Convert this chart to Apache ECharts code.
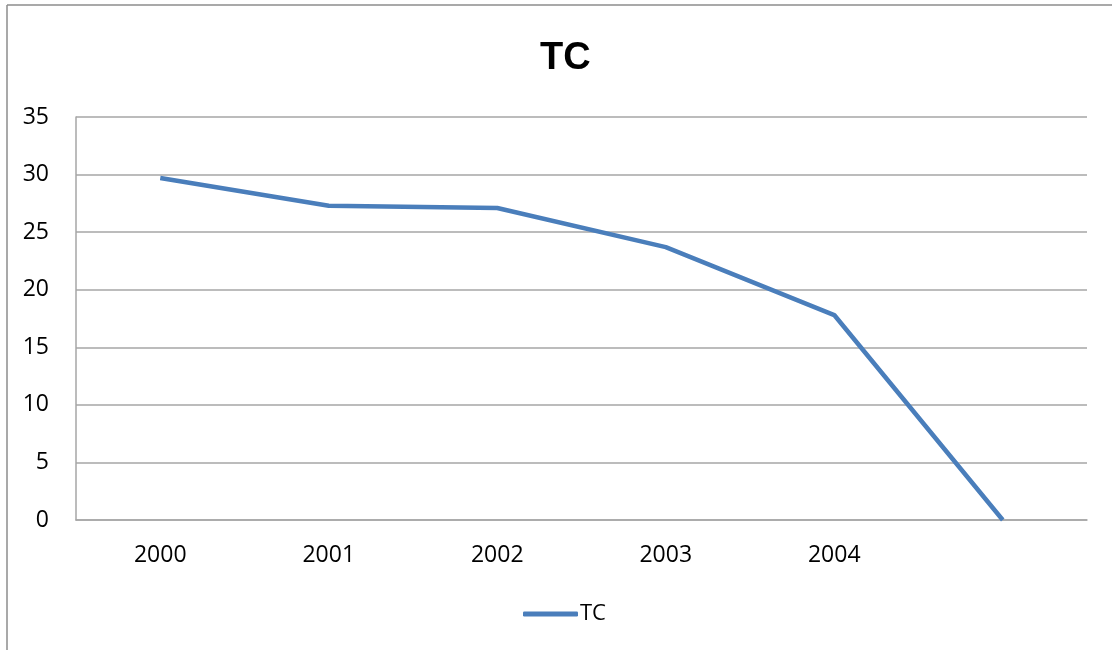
<!DOCTYPE html>
<html>
<head>
<meta charset="utf-8">
<script src="https://cdn.jsdelivr.net/npm/echarts@6/dist/echarts.min.js"></script>
<style>
html,body{margin:0;padding:0;background:#fff;}
#chart{width:1112px;height:650px;}
</style>
</head>
<body>
<div id="chart"></div>
<script>
const categories = ['2000', '2001', '2002', '2003', '2004', ''];
const tcValues = [29.7, 27.3, 27.1, 23.7, 17.8, 0];
const seriesName = 'TC';
const titleText = 'TC';

const chart = echarts.init(document.getElementById('chart'), null, {renderer: 'canvas'});
chart.setOption({
  animation: false,
  backgroundColor: '#ffffff',
  graphic: [
    {type: 'line', shape: {x1: 7, y1: 5, x2: 1112, y2: 5}, style: {stroke: '#8c8c8c', lineWidth: 1.5}},
    {type: 'line', shape: {x1: 7, y1: 5, x2: 7, y2: 650}, style: {stroke: '#8c8c8c', lineWidth: 1.5}}
  ],
  title: {
    text: titleText,
    left: 535,
    top: 35,
    textStyle: {fontFamily: 'Liberation Sans', fontWeight: 'bold', fontSize: 38, color: '#000'}
  },
  legend: {
    data: [seriesName],
    left: 518,
    top: 598,
    icon: 'roundRect',
    itemWidth: 55,
    itemHeight: 5,
    itemGap: 10,
    textStyle: {fontFamily: 'Open Sans', fontSize: 22, color: '#000', padding: [0, 0, 0, -3]}
  },
  grid: {left: 76, right: 25, top: 117, bottom: 130, containLabel: false},
  xAxis: {
    type: 'category',
    data: categories,
    boundaryGap: true,
    axisLine: {lineStyle: {color: '#a6a6a6', width: 1.5}},
    axisTick: {show: false},
    axisLabel: {fontFamily: 'Open Sans', fontSize: 23, color: '#000', margin: 24}
  },
  yAxis: {
    type: 'value',
    min: 0,
    max: 35,
    interval: 5,
    axisLine: {show: true, lineStyle: {color: '#a6a6a6', width: 1.5}},
    axisTick: {show: false},
    splitLine: {lineStyle: {color: '#a6a6a6', width: 1.5}},
    axisLabel: {fontFamily: 'Open Sans', fontSize: 23, color: '#000', margin: 27}
  },
  series: [{
    name: seriesName,
    type: 'line',
    data: tcValues,
    symbol: 'none',
    lineStyle: {color: '#4a7ebb', width: 4.5},
    itemStyle: {color: '#4a7ebb'}
  }]
});
</script>
</body>
</html>
